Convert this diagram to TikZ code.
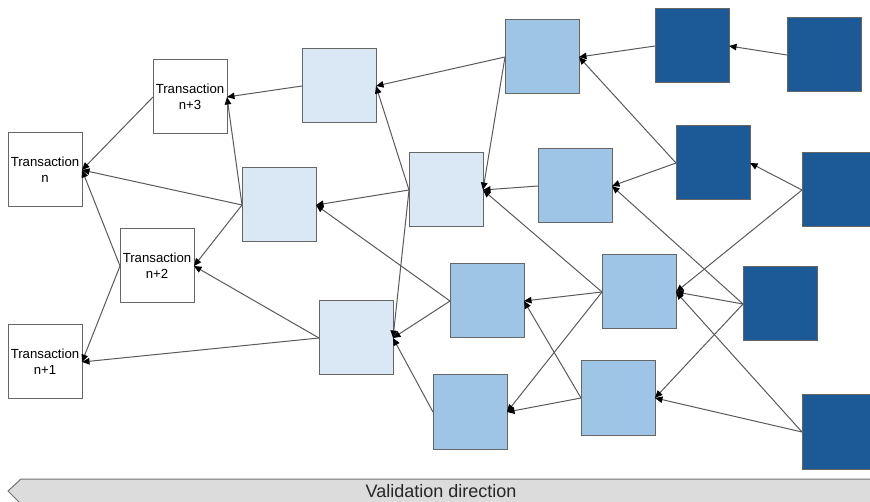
\documentclass[tikz,border=0pt]{standalone}
\usepackage{fontspec}
\setmainfont{Liberation Sans}
\usetikzlibrary{arrows.meta}
\definecolor{lightb}{HTML}{DAE8F5}
\definecolor{midb}{HTML}{9FC5E6}
\definecolor{darkb}{HTML}{1B5A96}
\definecolor{edgegray}{HTML}{666666}
\definecolor{linegray}{HTML}{5A5A5A}
\definecolor{bargray}{HTML}{DCDCDC}
\tikzset{
  box/.style={draw=edgegray, line width=1pt, rectangle, anchor=north west,
    minimum width=74pt, minimum height=74pt, inner sep=0pt, outer sep=0pt},
  wbox/.style={box, fill=white, align=center,
    font=\fontsize{13.2}{16}\selectfont},
  lbox/.style={box, fill=lightb},
  mbox/.style={box, fill=midb},
  dbox/.style={box, fill=darkb},
  conn/.style={draw=linegray, line width=1pt,
    -{Triangle[length=7.5pt,width=6.5pt,fill=black,color=black]}},
}
\begin{document}
\begin{tikzpicture}[x=1pt,y=-1pt]
\useasboundingbox (0,0) rectangle (870,502);
\clip (0,0) rectangle (870,502);
% white transaction boxes
\node[wbox] (tn) at (8,133) {Transaction\\n};
\node[wbox] (t3) at (153,60) {Transaction\\n+3};
\node[wbox] (t2) at (120,229) {Transaction\\n+2};
\node[wbox] (t1) at (8,325) {Transaction\\n+1};
% light blue
\node[lbox] (l1) at (302,49) {};
\node[lbox] (l2) at (242,168) {};
\node[lbox] (l3) at (409,153) {};
\node[lbox] (l4) at (319,301) {};
% medium blue
\node[mbox] (m1) at (505,20) {};
\node[mbox] (m2) at (538,149) {};
\node[mbox] (m3) at (450,264) {};
\node[mbox] (m4) at (602,255) {};
\node[mbox] (m5) at (433,375) {};
\node[mbox] (m6) at (581,361) {};
% dark blue
\node[dbox] (d1) at (655,9) {};
\node[dbox] (d2) at (787,18) {};
\node[dbox] (d3) at (676,126) {};
\node[dbox] (d4) at (802,153) {};
\node[dbox] (d5) at (743,267) {};
\node[dbox] (d6) at (802,395) {};
% connectors
\foreach \s/\t in {t3/tn, l2/tn, t2/tn, t2/t1, l1/t3, l2/t3, l2/t2, l4/t2, l4/t1,
  m1/l1, l3/l1, l3/l2, m3/l2, m1/l3, m2/l3, m4/l3, l3/l4, m3/l4, m5/l4,
  d1/m1, d3/m1, d3/m2, d5/m2, d2/d1, d4/d3, d4/m4, d5/m4, d6/m4, d5/m6, d6/m6,
  m4/m3, m6/m3, m4/m5, m6/m5}
  \draw[conn] (\s.west) -- (\t.east);
% validation direction bar
\draw[draw=gray!90!black, line width=1pt, fill=bargray]
  (21,479) -- (880,479) -- (880,504) -- (21,504) -- (8,491) -- cycle;
\node[font=\fontsize{18}{20}\selectfont, text=black!85, inner sep=0pt] (vd) at (441,491.5) {Validation direction};
\end{tikzpicture}
\end{document}
